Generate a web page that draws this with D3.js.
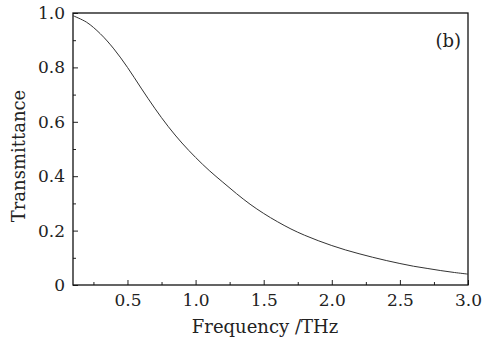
<!DOCTYPE html>
<html lang="en">
<head>
<meta charset="UTF-8">
<title>Transmittance vs Frequency</title>
<script src="https://d3js.org/d3.v7.min.js"></script>
<style>
  body { margin: 0; background: #fff; }
  text { font-family: "DejaVu Serif", "Liberation Serif", serif; fill: #222; }
</style>
</head>
<body>
<div id="chart"></div>
<script>
// data
const freq = [0.1, 0.2, 0.3, 0.4, 0.5, 0.6, 0.7, 0.8, 0.9, 1.0,
              1.1, 1.2, 1.3, 1.4, 1.5, 1.6, 1.7, 1.8, 1.9, 2.0,
              2.1, 2.2, 2.3, 2.4, 2.5, 2.6, 2.7, 2.8, 2.9, 3.0];
const trans = [0.990, 0.966, 0.924, 0.868, 0.800, 0.724, 0.650, 0.582, 0.522, 0.469,
               0.421, 0.378, 0.336, 0.297, 0.263, 0.233, 0.206, 0.183, 0.163, 0.145,
               0.129, 0.115, 0.102, 0.090, 0.079, 0.069, 0.061, 0.053, 0.046, 0.040];
const xTicks = [0.5, 1.0, 1.5, 2.0, 2.5, 3.0];
const xMinor = [0.25, 0.75, 1.25, 1.75, 2.25, 2.75];
const yTicks = [0, 0.2, 0.4, 0.6, 0.8, 1.0];
const yMinor = [0.1, 0.3, 0.5, 0.7, 0.9];

const W = 486, H = 338;
const margin = { top: 13, right: 18, bottom: 53, left: 73 };
const width = W - margin.left - margin.right;
const height = H - margin.top - margin.bottom;

const svg = d3.select("#chart").append("svg")
  .attr("width", W)
  .attr("height", H);

const g = svg.append("g")
  .attr("transform", `translate(${margin.left},${margin.top})`);

const x = d3.scaleLinear().domain([0.1, 3.0]).range([0, width]);
const y = d3.scaleLinear().domain([0, 1.0]).range([height, 0]);

// major + minor ticks pointing inward
g.append("g")
  .attr("transform", `translate(0,${height})`)
  .call(d3.axisBottom(x).tickValues(xTicks).tickSizeInner(-5).tickSizeOuter(0).tickPadding(9)
    .tickFormat(d3.format(".1f")))
  .call(a => a.select(".domain").remove())
  .call(a => a.selectAll("text").style("font-size", "17px"));

g.append("g")
  .attr("transform", `translate(0,${height})`)
  .call(d3.axisBottom(x).tickValues(xMinor).tickSizeInner(-3).tickSizeOuter(0).tickFormat(""))
  .call(a => a.select(".domain").remove());

g.append("g")
  .call(d3.axisLeft(y).tickValues(yTicks).tickSizeInner(-5).tickSizeOuter(0).tickPadding(8)
    .tickFormat(d => d === 0 ? "0" : d3.format(".1f")(d)))
  .call(a => a.select(".domain").remove())
  .call(a => a.selectAll("text").style("font-size", "17px"));

g.append("g")
  .call(d3.axisLeft(y).tickValues(yMinor).tickSizeInner(-3).tickSizeOuter(0).tickFormat(""))
  .call(a => a.select(".domain").remove());

g.selectAll(".tick line").attr("stroke", "#222");

// frame
g.append("rect")
  .attr("width", width)
  .attr("height", height)
  .attr("fill", "none")
  .attr("stroke", "#111")
  .attr("stroke-width", 1.3);

// curve
const line = d3.line()
  .x((d, i) => x(freq[i]))
  .y(d => y(d))
  .curve(d3.curveCatmullRom);

g.append("path")
  .datum(trans)
  .attr("fill", "none")
  .attr("stroke", "#333")
  .attr("stroke-width", 1)
  .attr("d", line);

g.append("text")
  .attr("x", width - 7)
  .attr("y", 34)
  .attr("text-anchor", "end")
  .style("font-size", "18px")
  .text("(b)");

svg.append("text")
  .attr("x", 265)
  .attr("y", 333)
  .attr("text-anchor", "middle")
  .style("font-size", "18px")
  .text("Frequency /THz");

svg.append("text")
  .attr("transform", "translate(25,156) rotate(-90)")
  .attr("text-anchor", "middle")
  .style("font-size", "18px")
  .text("Transmittance");
</script>
</body>
</html>
